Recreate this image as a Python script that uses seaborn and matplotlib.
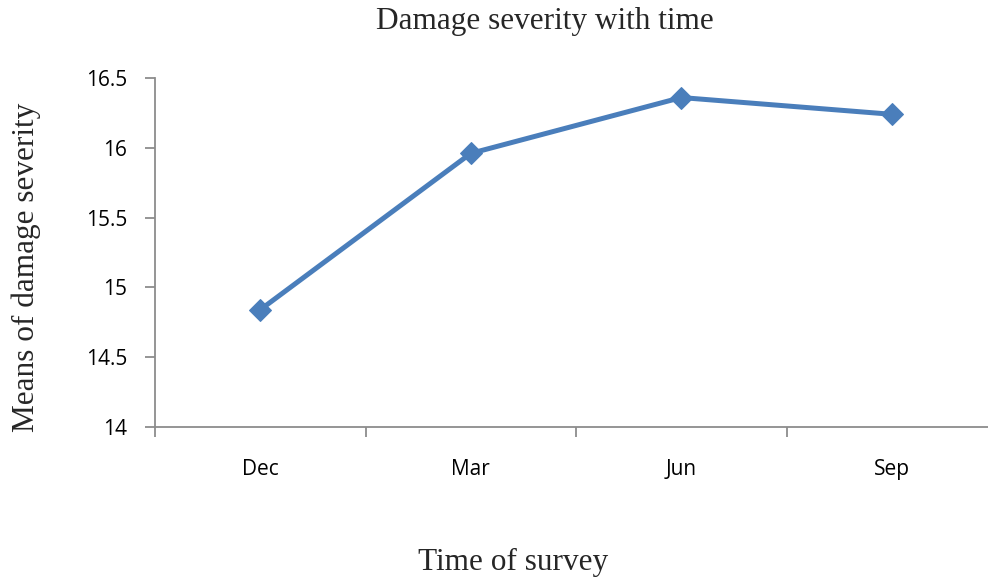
import matplotlib
matplotlib.use("Agg")
import matplotlib.pyplot as plt
import seaborn as sns
import pandas as pd
from matplotlib.ticker import FixedLocator

months = ["Dec", "Mar", "Jun", "Sep"]
severity = [14.84, 15.96, 16.36, 16.24]
y_ticks = [14, 14.5, 15, 15.5, 16, 16.5]
y_tick_labels = ["14", "14.5", "15", "15.5", "16", "16.5"]

sns.set_theme(style="white")
plt.rcParams["font.family"] = ["Open Sans", "DejaVu Sans"]

df = pd.DataFrame({"month": months, "severity": severity})

fig = plt.figure(figsize=(9.88, 5.78), dpi=100)
ax = fig.add_axes([155 / 988, (578 - 427) / 578, (997 - 155) / 988, (427 - 78) / 578])

line_color = "#4a7ebb"
sns.lineplot(data=df, x="month", y="severity", ax=ax, color=line_color,
             linewidth=3.6, marker="D", markersize=11, markeredgecolor=line_color,
             markerfacecolor=line_color, sort=False, clip_on=False)

ax.set_xlim(-0.5, len(months) - 0.5)
ax.set_ylim(14, 16.5)
ax.set_yticks(y_ticks)
ax.set_yticklabels(y_tick_labels)
ax.set_xticks(range(len(months)))
ax.set_xticklabels(months)
ax.xaxis.set_minor_locator(FixedLocator([i - 0.5 for i in range(len(months) + 1)]))

axis_gray = "#8c8c8c"
for side in ["top", "right"]:
    ax.spines[side].set_visible(False)
for side in ["left", "bottom"]:
    ax.spines[side].set_color(axis_gray)
    ax.spines[side].set_linewidth(1.3)

ax.tick_params(axis="y", which="major", direction="out", length=7, width=1.3,
               color=axis_gray, left=True, labelsize=15, pad=13, labelcolor="black")
ax.tick_params(axis="x", which="major", length=0, labelsize=15, pad=23, labelcolor="black")
ax.tick_params(axis="x", which="minor", direction="out", length=7, width=1.3,
               color=axis_gray, bottom=True)

ax.set_xlabel("")
ax.set_ylabel("")
ax.grid(False)

serif = ["Liberation Serif", "DejaVu Serif"]
fig.text(545 / 988, 1 - 22 / 578, "Damage severity with time", family=serif,
         fontsize=22.5, ha="center", va="center")
fig.text(513 / 988, 1 - 562 / 578, "Time of survey", family=serif,
         fontsize=22.5, ha="center", va="center")
fig.text(26 / 988, 1 - 267 / 578, "Means of damage severity", family=serif,
         fontsize=22.5, ha="center", va="center", rotation=90)

fig.savefig("out.png", dpi=100, facecolor="white")
